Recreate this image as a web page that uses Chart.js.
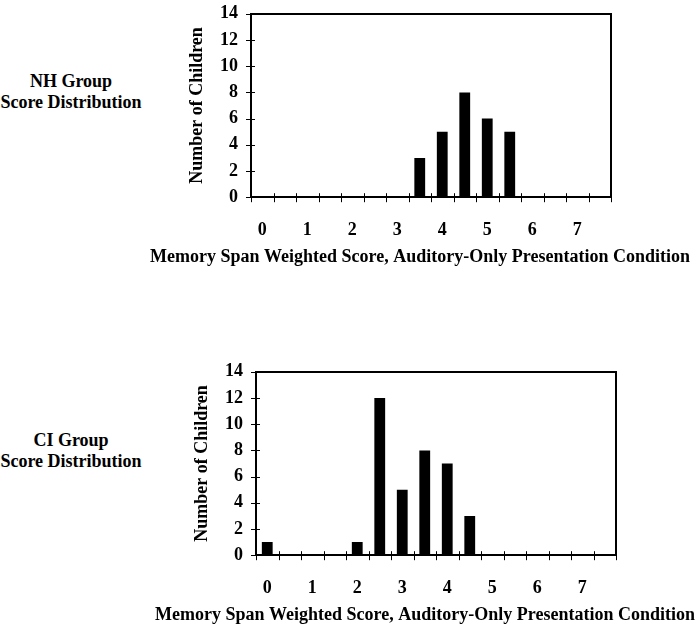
<!DOCTYPE html>
<html>
<head>
<meta charset="utf-8">
<script src="https://cdn.jsdelivr.net/npm/chart.js@4.4.0/dist/chart.umd.min.js"></script>
<style>
  body { margin: 0; background: #fff; width: 700px; height: 628px; overflow: hidden; position: relative; font-family: 'Liberation Serif', 'Times New Roman', serif; }
  .group { position: absolute; left: 0; width: 142px; text-align: center; font-weight: bold; font-size: 18px; line-height: 21px; color: #000; }
  .box { position: absolute; width: 560px; height: 278px; }
</style>
</head>
<body>
<div class="group" style="top:71px">NH Group<br>Score Distribution</div>
<div class="group" style="top:430px">CI Group<br>Score Distribution</div>
<div class="box" style="left:140px;top:-10px"><canvas id="nh" width="560" height="278"></canvas></div>
<div class="box" style="left:145px;top:348px"><canvas id="ci" width="560" height="278"></canvas></div>
<script>
// score bins (half-point steps), only whole numbers get a label
const scoreBins = ['0','0.5','1','1.5','2','2.5','3','3.5','4','4.5','5','5.5','6','6.5','7','7.5'];
const nhCounts = [0,0,0,0,0,0,0,3,5,8,6,5,0,0,0,0];
const ciCounts = [1,0,0,0,1,12,5,8,7,3,0,0,0,0,0,0];
const yMax = 14;
const yStep = 2;
const xTitle = 'Memory Span Weighted Score, Auditory-Only Presentation Condition';
const yTitle = 'Number of Children';

Chart.defaults.font.family = "'Liberation Serif', 'Times New Roman', serif";
Chart.defaults.color = '#000';

const boldFont = { size: 18, weight: 'bold' };

// small tick marks that cross the axis lines
const crossTicks = {
    id: 'crossTicks',
    afterDraw(chart) {
        const ctx = chart.ctx;
        const x = chart.scales.x;
        const y = chart.scales.y;
        ctx.save();
        ctx.strokeStyle = '#000';
        ctx.lineWidth = 1;
        ctx.beginPath();
        const n = x.ticks.length;
        const step = x.width / n;
        for (let i = 0; i <= n; i++) {
            const px = Math.round(x.left + i * step) + 0.5;
            ctx.moveTo(px, x.top - 4);
            ctx.lineTo(px, x.top + 5);
        }
        y.ticks.forEach(t => {
            const py = Math.round(y.getPixelForValue(t.value)) + 0.5;
            ctx.moveTo(y.right - 5, py);
            ctx.lineTo(y.right + 4, py);
        });
        ctx.stroke();
        ctx.restore();
    }
};

const makeChart = (id, counts) => {
    const ctx = document.querySelector('#' + id).getContext('2d');
    return new Chart(ctx, {
        type: 'bar',
        data: {
            labels: scoreBins,
            datasets: [{
                data: counts,
                backgroundColor: '#000',
                borderWidth: 0,
                barPercentage: 0.48,
                categoryPercentage: 1
            }]
        },
        options: {
            responsive: false,
            animation: false,
            layout: { padding: 0 },
            plugins: {
                legend: { display: false },
                tooltip: { enabled: false },
                title: {
                    display: true,
                    position: 'bottom',
                    text: xTitle,
                    font: boldFont,
                    color: '#000',
                    padding: { top: 0, bottom: 0 }
                }
            },
            scales: {
                x: {
                    type: 'category',
                    position: 'bottom',
                    grid: { display: false, drawTicks: false },
                    border: { display: true, color: '#000', width: 2 },
                    ticks: {
                        autoSkip: false,
                        maxRotation: 0,
                        padding: 22,
                        font: boldFont,
                        callback: function(val, index) {
                            const lab = this.getLabelForValue(val);
                            return lab.indexOf('.') < 0 ? lab : '';
                        }
                    },
                    afterFit: s => { s.height = 49.2; }
                },
                x2: {
                    type: 'linear',
                    position: 'top',
                    min: 0, max: 1,
                    grid: { display: false, drawTicks: false },
                    border: { display: true, color: '#000', width: 2 },
                    ticks: { display: false },
                    afterFit: s => { s.height = 13.5; }
                },
                y: {
                    min: 0,
                    max: yMax,
                    grid: { display: false, drawTicks: false },
                    border: { display: true, color: '#000', width: 2 },
                    ticks: { stepSize: yStep, padding: 13, font: boldFont },
                    title: {
                        display: true,
                        text: yTitle,
                        font: boldFont,
                        padding: { top: 47, bottom: 0 }
                    },
                    afterFit: s => { s.width = 111; }
                },
                y2: {
                    type: 'linear',
                    position: 'right',
                    min: 0, max: 1,
                    grid: { display: false, drawTicks: false },
                    border: { display: true, color: '#000', width: 2 },
                    ticks: { display: false },
                    afterFit: s => { s.width = 89; }
                }
            }
        },
        plugins: [crossTicks]
    });
};

makeChart('nh', nhCounts);
makeChart('ci', ciCounts);
</script>
</body>
</html>
